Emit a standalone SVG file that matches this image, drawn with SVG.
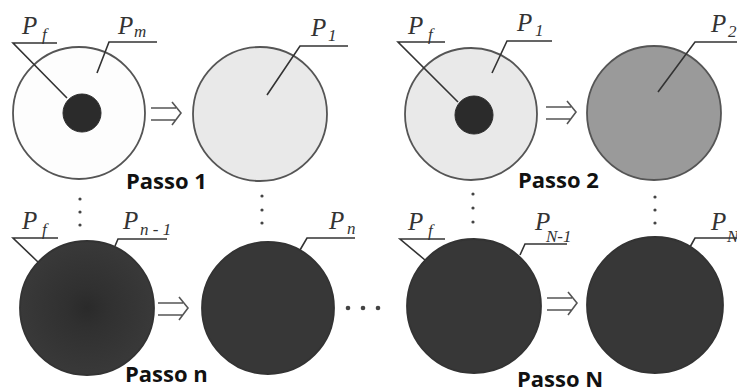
<svg xmlns="http://www.w3.org/2000/svg" xmlns:xlink="http://www.w3.org/1999/xlink" width="737" height="392" viewBox="0 0 737 392">
<style>
.ring{stroke:#555;stroke-width:1.8}
.white{fill:#fdfdfd}
.light{fill:#e9e9e9}
.mid{fill:#9a9a9a}
.dark{fill:#373737;stroke:#333}
.core{fill:#2b2b2b;stroke:#2b2b2b;stroke-width:1}
.lead{fill:none;stroke:#333;stroke-width:1.6}
.lbl{font-family:"Liberation Serif",serif;font-style:italic;font-size:25px;fill:#333}
.sub{font-family:"Liberation Serif",serif;font-style:italic;font-size:17px;fill:#333}
.step{font-family:"Open Sans","DejaVu Sans",sans-serif;font-weight:700;font-size:22px;fill:#111}
.dot{fill:#444}
.arr{fill:none;stroke:#555;stroke-width:1.6}
</style>
<defs>
<radialGradient id="dcore" cx="0.5" cy="0.5" r="0.5">
<stop offset="0" stop-color="#2a2a2a"/>
<stop offset="0.3" stop-color="#303030"/>
<stop offset="1" stop-color="#393939"/>
</radialGradient>
<g id="imp">
<path d="M-30,-5 H-5 M-30,7 H-5 M-9,-11 L0,0 L-9,12"/>
</g>
</defs>
<rect width="737" height="392" fill="#fff"/>

<g id="n1">
<circle class="ring white" cx="79" cy="113" r="66"/>
<circle class="core" cx="82" cy="113" r="19"/>
</g>
<g id="n2">
<circle class="ring light" cx="260" cy="114" r="67"/>
</g>
<g id="n3">
<circle class="ring light" cx="471" cy="114" r="66"/>
<circle class="core" cx="474" cy="115" r="19"/>
</g>
<g id="n4">
<circle class="ring mid" cx="654" cy="113" r="67"/>
</g>
<g id="n5">
<circle class="ring dark" cx="87" cy="308" r="67" style="fill:url(#dcore)"/>
</g>
<g id="n6">
<circle class="ring dark" cx="268" cy="308" r="66"/>
</g>
<g id="n7">
<circle class="ring dark" cx="474" cy="306" r="67"/>
</g>
<g id="n8">
<circle class="ring dark" cx="655" cy="305" r="68"/>
</g>

<g id="connectors">
<use href="#imp" class="arr" transform="translate(181,113)"/>
<use href="#imp" class="arr" transform="translate(576,112)"/>
<use href="#imp" class="arr" transform="translate(188,308)"/>
<use href="#imp" class="arr" transform="translate(577,303)"/>
<path class="lead" d="M57,43 H13 L67,98"/>
<path class="lead" d="M157,42 H109 L97,73"/>
<path class="lead" d="M348,46 H300 L267,95"/>
<path class="lead" d="M445,42 H398 L458,102"/>
<path class="lead" d="M552,41 H507 L492,73"/>
<path class="lead" d="M737,42 H695 L658,92"/>
<path class="lead" d="M58,238 H13 L38,262"/>
<path class="lead" d="M167,239 H118 L115,246"/>
<path class="lead" d="M355,238 H307 L300,250"/>
<path class="lead" d="M445,239 H400 L425,260"/>
<path class="lead" d="M567,244 H525 L520,255"/>
<path class="lead" d="M737,238 H695 L690,247"/>
<circle class="dot" cx="80" cy="199" r="1.6"/>
<circle class="dot" cx="80" cy="212" r="1.6"/>
<circle class="dot" cx="80" cy="225" r="1.6"/>
<circle class="dot" cx="262" cy="196" r="1.6"/>
<circle class="dot" cx="262" cy="210" r="1.6"/>
<circle class="dot" cx="262" cy="223" r="1.6"/>
<circle class="dot" cx="473" cy="194" r="1.6"/>
<circle class="dot" cx="473" cy="208" r="1.6"/>
<circle class="dot" cx="473" cy="222" r="1.6"/>
<circle class="dot" cx="655" cy="197" r="1.6"/>
<circle class="dot" cx="655" cy="210" r="1.6"/>
<circle class="dot" cx="655" cy="223" r="1.6"/>
<circle class="dot" cx="348" cy="308" r="2.3"/>
<circle class="dot" cx="363" cy="308" r="2.3"/>
<circle class="dot" cx="378" cy="308" r="2.3"/>
</g>

<g id="labels">
<text class="lbl" x="22" y="34">P</text><text class="sub" x="42" y="40">f</text>
<text class="lbl" x="118" y="34">P</text><text class="sub" x="134" y="37">m</text>
<text class="lbl" x="311" y="36">P</text><text class="sub" x="328" y="41">1</text>
<text class="lbl" x="408" y="34">P</text><text class="sub" x="428" y="40">f</text>
<text class="lbl" x="517" y="31">P</text><text class="sub" x="535" y="36">1</text>
<text class="lbl" x="711" y="32">P</text><text class="sub" x="728" y="37">2</text>
<text class="lbl" x="22" y="229">P</text><text class="sub" x="42" y="235">f</text>
<text class="lbl" x="123" y="229">P</text><text class="sub" x="140" y="235">n - 1</text>
<text class="lbl" x="329" y="229">P</text><text class="sub" x="347" y="234">n</text>
<text class="lbl" x="408" y="230">P</text><text class="sub" x="428" y="236">f</text>
<text class="lbl" x="535" y="230">P</text><text class="sub" x="546" y="242">N-1</text>
<text class="lbl" x="711" y="230">P</text><text class="sub" x="727" y="242">N</text>
<text class="step" x="126" y="189">Passo 1</text>
<text class="step" x="518" y="188">Passo 2</text>
<text class="step" x="125" y="382">Passo n</text>
<text class="step" x="517" y="387">Passo N</text>
</g>
</svg>
